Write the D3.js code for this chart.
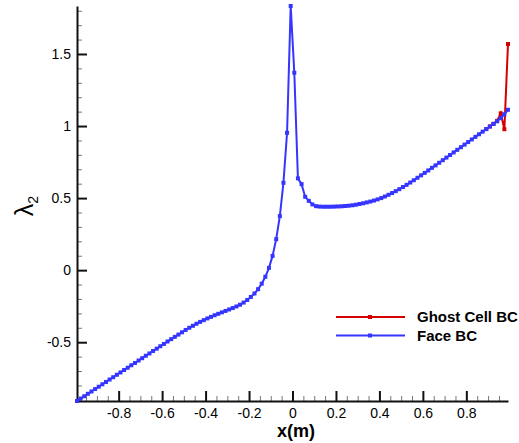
<!DOCTYPE html>
<html>
<head>
<meta charset="utf-8" />
<script src="https://d3js.org/d3.v7.min.js"></script>
<style>
    body { margin: 0; background: #fff; }
    text { font-family: "Liberation Sans", Arial, Helvetica, sans-serif; fill: #000; }
</style>
</head>
<body>
<script>
    // Face BC: cell centres and lambda_2 values
    var faceX = [-0.9917, -0.975, -0.9583, -0.9417, -0.925, -0.9083, -0.8917, -0.875, -0.8583, -0.8417,
        -0.825, -0.8083, -0.7917, -0.775, -0.7583, -0.7417, -0.725, -0.7083, -0.6917, -0.675,
        -0.6583, -0.6417, -0.625, -0.6083, -0.5917, -0.575, -0.5583, -0.5417, -0.525, -0.5083,
        -0.4917, -0.475, -0.4583, -0.4417, -0.425, -0.4083, -0.3917, -0.375, -0.3583, -0.3417,
        -0.325, -0.3083, -0.2917, -0.275, -0.2583, -0.2417, -0.225, -0.2083, -0.1917, -0.175,
        -0.1583, -0.1417, -0.125, -0.1083, -0.0917, -0.075, -0.0583, -0.0417, -0.025, -0.0083,
        0.0083, 0.025, 0.0417, 0.0583, 0.075, 0.0917, 0.1083, 0.125, 0.1417, 0.1583,
        0.175, 0.1917, 0.2083, 0.225, 0.2417, 0.2583, 0.275, 0.2917, 0.3083, 0.325,
        0.3417, 0.3583, 0.375, 0.3917, 0.4083, 0.425, 0.4417, 0.4583, 0.475, 0.4917,
        0.5083, 0.525, 0.5417, 0.5583, 0.575, 0.5917, 0.6083, 0.625, 0.6417, 0.6583,
        0.675, 0.6917, 0.7083, 0.725, 0.7417, 0.7583, 0.775, 0.7917, 0.8083, 0.825,
        0.8417, 0.8583, 0.875, 0.8917, 0.9083, 0.925, 0.9417, 0.9583, 0.975, 0.9917];
    var faceY = [-0.908, -0.891, -0.875, -0.858, -0.842, -0.825, -0.809, -0.792, -0.776, -0.759,
        -0.743, -0.726, -0.710, -0.693, -0.677, -0.660, -0.644, -0.627, -0.611, -0.594,
        -0.578, -0.561, -0.545, -0.528, -0.512, -0.495, -0.479, -0.463, -0.447, -0.431,
        -0.415, -0.400, -0.386, -0.372, -0.359, -0.347, -0.335, -0.324, -0.313, -0.303,
        -0.293, -0.283, -0.273, -0.263, -0.252, -0.240, -0.225, -0.207, -0.186, -0.162,
        -0.132, -0.094, -0.046, 0.016, 0.099, 0.215, 0.375, 0.606, 0.953, 1.833,
        1.370, 0.637, 0.597, 0.509, 0.481, 0.456, 0.444, 0.441, 0.440, 0.440,
        0.440, 0.441, 0.442, 0.443, 0.445, 0.447, 0.450, 0.454, 0.459, 0.464,
        0.470, 0.476, 0.483, 0.491, 0.500, 0.511, 0.523, 0.535, 0.548, 0.562,
        0.577, 0.592, 0.608, 0.624, 0.641, 0.658, 0.675, 0.692, 0.710, 0.727,
        0.745, 0.763, 0.781, 0.799, 0.817, 0.835, 0.853, 0.871, 0.889, 0.907,
        0.925, 0.943, 0.961, 0.979, 0.997, 1.015, 1.033, 1.055, 1.082, 1.113];

    // Ghost Cell BC: only differs from Face BC near the right boundary
    var ghostX = [0.8917, 0.9083, 0.925, 0.9417, 0.9583, 0.975, 0.9917];
    var ghostY = [0.979, 0.997, 1.015, 1.036, 1.088, 0.978, 1.569];

    var xMajor = [-0.8, -0.6, -0.4, -0.2, 0, 0.2, 0.4, 0.6, 0.8];
    var xMinor = [-0.95, -0.9, -0.85, -0.75, -0.7, -0.65, -0.55, -0.5, -0.45, -0.35, -0.3, -0.25,
        -0.15, -0.1, -0.05, 0.05, 0.1, 0.15, 0.25, 0.3, 0.35, 0.45, 0.5, 0.55, 0.65, 0.7, 0.75, 0.85, 0.9, 0.95];
    var yMajor = [-0.5, 0, 0.5, 1, 1.5];
    var yMinor = [-0.9, -0.8, -0.7, -0.6, -0.4, -0.3, -0.2, -0.1, 0.1, 0.2, 0.3, 0.4,
        0.6, 0.7, 0.8, 0.9, 1.1, 1.2, 1.3, 1.4, 1.6, 1.7, 1.8];

    var seriesNames = ["Ghost Cell BC", "Face BC"];
    var seriesColors = ["#d40000", "#3535ff"];

    var svgWidth = 519, svgHeight = 443;
    var margin = {left: 77, right: 11, top: 6, bottom: 42};

    var svg = d3.select("body").append("svg")
        .attr("width", svgWidth)
        .attr("height", svgHeight);

    var allX = faceX.concat(ghostX), allY = faceY.concat(ghostY);
    var x = d3.scaleLinear()
        .domain(d3.extent(allX))
        .range([margin.left, svgWidth - margin.right]);
    var y = d3.scaleLinear()
        .domain(d3.extent(allY))
        .range([svgHeight - margin.bottom, margin.top]);

    // plain hyphen for negatives, like the original plot
    var fmt = function(d) { return String(d); };

    // minor ticks (inward)
    svg.append("g")
        .attr("transform", "translate(0," + (svgHeight - margin.bottom) + ")")
        .call(d3.axisBottom(x).tickValues(xMinor).tickSize(-5).tickFormat(""))
        .call(function(g) { g.select(".domain").remove(); })
        .selectAll("line").attr("stroke", "#777");
    svg.append("g")
        .attr("transform", "translate(" + margin.left + ",0)")
        .call(d3.axisLeft(y).tickValues(yMinor).tickSize(-5).tickFormat(""))
        .call(function(g) { g.select(".domain").remove(); })
        .selectAll("line").attr("stroke", "#777");

    // major axes
    var xAxis = svg.append("g")
        .attr("transform", "translate(0," + (svgHeight - margin.bottom) + ")")
        .call(d3.axisBottom(x).tickValues(xMajor).tickSize(-10).tickSizeOuter(0).tickPadding(7).tickFormat(fmt));
    var yAxis = svg.append("g")
        .attr("transform", "translate(" + margin.left + ",0)")
        .call(d3.axisLeft(y).tickValues(yMajor).tickSize(-10).tickSizeOuter(0).tickPadding(6).tickFormat(fmt));
    [xAxis, yAxis].forEach(function(g) {
        g.select(".domain").attr("stroke", "#111").attr("stroke-width", 2);
        g.selectAll(".tick line").attr("stroke", "#111").attr("stroke-width", 2);
        g.selectAll("text").style("font-size", "14px").attr("fill", "#000");
    });

    // axis titles
    svg.append("text")
        .attr("x", 296).attr("y", 437)
        .attr("text-anchor", "middle")
        .style("font-size", "18px").style("font-weight", "bold")
        .text("x(m)");
    var yt = svg.append("text")
        .attr("transform", "translate(33,206) rotate(-90)")
        .attr("text-anchor", "middle")
        .style("font-size", "25px");
    yt.append("tspan").text("λ");
    yt.append("tspan").attr("dy", 5).style("font-size", "14px").text("2");

    // series
    var line = d3.line()
        .x(function(d) { return x(d[0]); })
        .y(function(d) { return y(d[1]); });

    var seriesData = [d3.zip(ghostX, ghostY), d3.zip(faceX, faceY)];
    seriesData.forEach(function(pts, k) {
        var g = svg.append("g");
        g.append("path")
            .datum(pts)
            .attr("fill", "none")
            .attr("stroke", seriesColors[k])
            .attr("stroke-width", 2)
            .attr("d", line);
        g.selectAll("rect")
            .data(pts)
            .enter().append("rect")
            .attr("x", function(d) { return x(d[0]) - 2; })
            .attr("y", function(d) { return y(d[1]) - 2; })
            .attr("width", 4).attr("height", 4)
            .attr("fill", seriesColors[k]);
    });

    // legend
    var legend = svg.append("g");
    seriesNames.forEach(function(name, k) {
        var ly = 317 + k * 18.5;
        legend.append("line")
            .attr("x1", 336).attr("x2", 405)
            .attr("y1", ly).attr("y2", ly)
            .attr("stroke", seriesColors[k]).attr("stroke-width", 2);
        legend.append("rect")
            .attr("x", 368).attr("y", ly - 2)
            .attr("width", 4).attr("height", 4)
            .attr("fill", seriesColors[k]);
        legend.append("text")
            .attr("x", 417).attr("y", ly + 5)
            .style("font-size", "15px").style("font-weight", "bold")
            .text(name);
    });
</script>
</body>
</html>
